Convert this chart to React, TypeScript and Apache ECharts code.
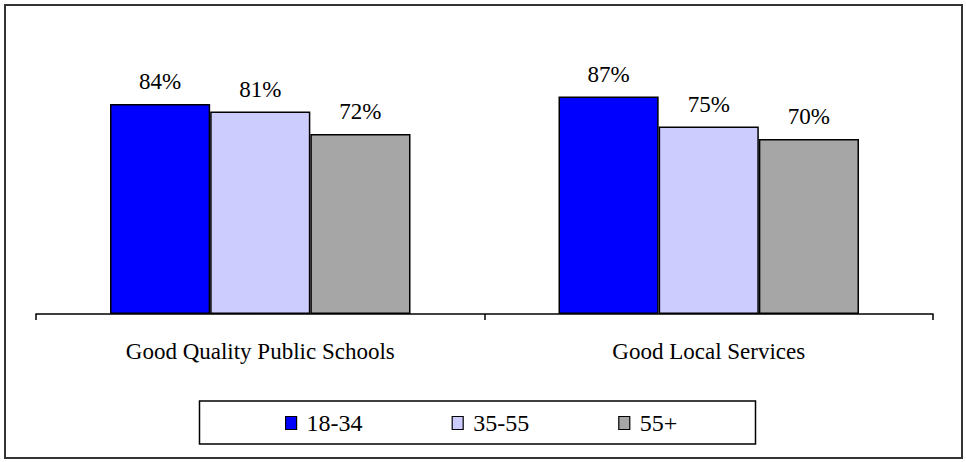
import React, { useEffect, useRef } from "react";
import * as echarts from "echarts";

const categories = ["Good Quality Public Schools", "Good Local Services"];
const seriesNames = ["18-34", "35-55", "55+"];
const age18to34 = [84, 87];
const age35to55 = [81, 75];
const age55plus = [72, 70];
const colors = ["#0000FF", "#CCCCFF", "#A6A6A6"];

const FONT = "'Liberation Serif', 'Times New Roman', serif";

export default function App() {
  const ref = useRef<HTMLDivElement>(null);
  useEffect(() => {
    if (!ref.current) return;
    const chart = echarts.init(ref.current, undefined, { renderer: "svg" });
    const values = [age18to34, age35to55, age55plus];
    const option: any = {
      animation: false,
      backgroundColor: "#ffffff",
      textStyle: { fontFamily: FONT },
      grid: { left: 36, right: 33, top: 64, bottom: 148 },
      xAxis: {
        type: "category",
        data: categories,
        axisLine: { lineStyle: { color: "#000", width: 1.5 } },
        axisTick: { show: true, length: 6, lineStyle: { color: "#000", width: 1.5 } },
        axisLabel: { fontSize: 23, color: "#000", fontFamily: FONT, margin: 26 },
      },
      yAxis: { type: "value", min: 0, max: 100, show: false, splitLine: { show: false } },
      legend: {
        data: seriesNames,
        left: 285,
        top: 411,
        padding: 0,
        icon: "rect",
        itemWidth: 11,
        itemHeight: 13,
        itemGap: 89,
        textStyle: { fontSize: 24, color: "#000", fontFamily: FONT, padding: [0, 0, 0, 5] },
        itemStyle: { borderColor: "#000", borderWidth: 1.2 },
      },
      graphic: [
        {
          type: "rect",
          z: -10,
          shape: { x: 5, y: 5, width: 957, height: 453 },
          style: { fill: "none", stroke: "#333", lineWidth: 2 },
        },
        {
          type: "rect",
          z: -10,
          shape: { x: 199.5, y: 401, width: 556, height: 43 },
          style: { fill: "#fff", stroke: "#000", lineWidth: 1.5 },
        },
      ],
      series: seriesNames.map((name, i) => ({
        name,
        type: "bar",
        data: values[i],
        barGap: "0%",
        barCategoryGap: "33%",
        itemStyle: { color: colors[i], borderColor: "#000", borderWidth: 1.5 },
        label: {
          show: true,
          position: "top",
          distance: 11,
          formatter: "{c}%",
          fontSize: 23,
          color: "#000",
          fontFamily: FONT,
        },
      })),
    };
    chart.setOption(option);
    return () => chart.dispose();
  }, []);
  return <div ref={ref} style={{ width: 966, height: 462, position: "absolute", left: 0, top: 0 }} />;
}
